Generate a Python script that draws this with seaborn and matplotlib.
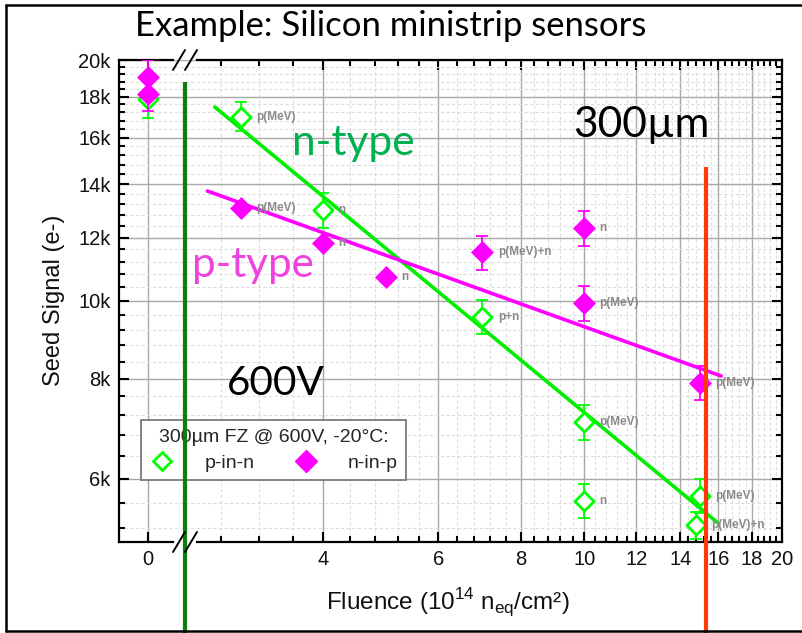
import numpy as np
import pandas as pd
import seaborn as sns
import matplotlib
matplotlib.use("Agg")
import matplotlib.pyplot as plt
from matplotlib.lines import Line2D
from matplotlib.ticker import FixedLocator, FixedFormatter, NullFormatter

# ---------------- data ----------------
pinn_fluence = [0, 3, 4, 7, 10, 10, 15, 14.8]
pinn_signal = [17900, 17000, 13000, 9560, 7060, 5630, 5710, 5250]
pinn_error = [950, 700, 650, 470, 350, 280, 280, 200]
pinn_note = ["", "p(MeV)", "n", "p+n", "p(MeV)", "n", "p(MeV)", "p(MeV)+n"]

nipp_fluence = [0, 0, 3, 4, 5, 7, 10, 10, 15]
nipp_signal = [19050, 18150, 13070, 11810, 10700, 11500, 12320, 9950, 7910]
nipp_error = [950, 900, 0, 0, 0, 570, 620, 500, 390]
nipp_note = ["", "", "p(MeV)", "n", "n", "p(MeV)+n", "n", "p(MeV)", "p(MeV)"]

ntype_fit_fluence = [2.74, 15.94]
ntype_fit_signal = [17470, 5290]
ptype_fit_fluence = [2.67, 16.16]
ptype_fit_signal = [13720, 8060]

cut_fluence = [2.47, 15.33]
cut_top_signal = [18770, 14700]

fluence_ticks = [4, 6, 8, 10, 12, 14, 16, 18, 20]
fluence_tick_labels = ["4", "6", "8", "10", "12", "14", "16", "18", "20"]
signal_ticks = [6000, 8000, 10000, 12000, 14000, 16000, 18000, 20000]
signal_tick_labels = ["6k", "8k", "10k", "12k", "14k", "16k", "18k", "20k"]

# ---------------- style ----------------
sns.set_theme(style="white")
plt.rcParams["font.family"] = ["Liberation Sans", "DejaVu Sans"]
plt.rcParams["mathtext.fontset"] = "custom"
plt.rcParams["mathtext.rm"] = "Liberation Sans"

GREEN = "#00ee00"
MAGENTA = "#ff00ff"
W, H = 803, 633

pinn = pd.DataFrame({"fluence": pinn_fluence, "signal": pinn_signal,
                     "err": pinn_error, "note": pinn_note})
nipp = pd.DataFrame({"fluence": nipp_fluence, "signal": nipp_signal,
                     "err": nipp_error, "note": nipp_note})

fig = plt.figure(figsize=(W / 100, H / 100), dpi=100)
bot = 1 - 542 / H
hgt = (542 - 60) / H
ax0 = fig.add_axes([119 / W, bot, (185 - 119) / W, hgt])
ax1 = fig.add_axes([185 / W, bot, (782 - 185) / W, hgt], sharey=ax0)

ax0.set_yscale("log")
ax1.set_xscale("log")
ax0.set_ylim(5000, 20000)
ax0.set_xlim(-0.439, 0.561)
ax1.set_xlim(2.468, 20)

minor_y = [v for v in np.arange(5200, 20000, 400) if v % 2000 != 0]
minor_x = [v for v in np.round(np.arange(2.8, 20.0, 0.4), 1) if v % 2 != 0]

ax0.yaxis.set_major_locator(FixedLocator(signal_ticks))
ax0.yaxis.set_major_formatter(FixedFormatter(signal_tick_labels))
ax0.yaxis.set_minor_locator(FixedLocator(minor_y))
ax0.yaxis.set_minor_formatter(NullFormatter())
ax0.xaxis.set_major_locator(FixedLocator([0]))
ax0.xaxis.set_major_formatter(FixedFormatter(["0"]))
ax0.xaxis.set_minor_locator(FixedLocator([]))

ax1.xaxis.set_major_locator(FixedLocator(fluence_ticks))
ax1.xaxis.set_major_formatter(FixedFormatter(fluence_tick_labels))
ax1.xaxis.set_minor_locator(FixedLocator(minor_x))
ax1.xaxis.set_minor_formatter(NullFormatter())

for ax in (ax0, ax1):
    ax.set_facecolor("white")
    ax.set_axisbelow(True)
    ax.grid(True, which="major", color="#a8a8a8", linewidth=1.0, linestyle="-")
    ax.grid(True, which="minor", color="#dedede", linewidth=0.8, linestyle=(0, (3, 2)))
    for s in ax.spines.values():
        s.set_color("black")
        s.set_linewidth(1.6)
    ax.tick_params(which="both", direction="in", color="black", width=1.5,
                   labelsize=14.5, pad=6, labelcolor="#111111")
    ax.tick_params(which="major", length=7)
    ax.tick_params(which="minor", length=4)

ax0.tick_params(which="both", left=True, right=False, top=True, bottom=True)
ax1.tick_params(which="both", left=False, right=True, top=True, bottom=True,
                labelleft=False)
ax0.spines["right"].set_visible(False)
ax1.spines["left"].set_visible(False)
ax0.spines["top"].set_bounds(-0.439, 0.379)
ax0.spines["bottom"].set_bounds(-0.439, 0.379)
ax1.spines["top"].set_bounds(2.574, 20)
ax1.spines["bottom"].set_bounds(2.574, 20)

# ---------------- plotting ----------------
def draw(ax, df, open_marker, color, z):
    if len(df) == 0:
        return
    e = df[df["err"] > 0]
    ax.errorbar(e["fluence"], e["signal"], yerr=e["err"], fmt="none",
                ecolor=color, elinewidth=1.3, capsize=4.5, capthick=1.3, zorder=z)
    if open_marker:
        sns.scatterplot(data=df, x="fluence", y="signal", ax=ax, marker="D", s=95,
                        facecolor="white", edgecolor=color, linewidth=2.0,
                        zorder=z + 0.5, legend=False)
    else:
        sns.scatterplot(data=df, x="fluence", y="signal", ax=ax, marker="D", s=125,
                        color=color, edgecolor=color, linewidth=0.5,
                        zorder=z + 0.5, legend=False)
    for _, r in df.iterrows():
        if r["note"]:
            ax.annotate(r["note"], (r["fluence"], r["signal"]), xytext=(11, 0),
                        textcoords="offset points", fontsize=8.5, fontweight="bold",
                        color="#8a8a8a", va="center", ha="left", zorder=z + 1)

sns.lineplot(x=ntype_fit_fluence, y=ntype_fit_signal, ax=ax1, color=GREEN,
             linewidth=2.6, zorder=3)
sns.lineplot(x=ptype_fit_fluence, y=ptype_fit_signal, ax=ax1, color=MAGENTA,
             linewidth=2.6, zorder=3)

draw(ax0, pinn[pinn["fluence"] == 0], True, "#00ff00", 4)
draw(ax0, nipp[nipp["fluence"] == 0], False, MAGENTA, 5)
draw(ax1, pinn[pinn["fluence"] > 0], True, "#00ff00", 4)
draw(ax1, nipp[nipp["fluence"] > 0], False, MAGENTA, 5)

for ax in (ax0, ax1):
    ax.set_xlabel("")
    ax.set_ylabel("")

# legend
handles = [Line2D([], [], ls="none", marker="D", ms=9, mfc="white", mec="#00ff00", mew=2),
           Line2D([], [], ls="none", marker="D", ms=11, mfc=MAGENTA, mec=MAGENTA)]
leg = ax1.legend(handles, ["p-in-n", "n-in-p"], ncol=2, title="300µm FZ @ 600V, -20°C:",
                 loc="upper left", bbox_to_anchor=(141 / W, 1 - 420 / H),
                 bbox_transform=fig.transFigure, frameon=True, fancybox=False,
                 edgecolor="#7a7a7a", framealpha=1, fontsize=14, title_fontsize=14,
                 borderpad=0.45, handletextpad=1.5, columnspacing=2.0, handlelength=1.3,
                 borderaxespad=0, labelspacing=0.2)
leg.get_frame().set_linewidth(1.3)
leg._legend_box.sep = 6
leg.set_zorder(8)

# vertical cut lines (over the legend)
for fx, ftop, col in zip(cut_fluence, cut_top_signal, ["#0a7f0a", "#ff3a0a"]):
    ax1.plot([fx, fx], [ftop, 2500], color=col, linewidth=3.0, clip_on=False,
             zorder=10, solid_capstyle="butt")

# axis break marks
bx = 185 / W
for ybase in (60, 542):
    for dx in (-12, 0):
        fig.add_artist(Line2D([bx + dx / W, bx + (dx + 12) / W],
                              [1 - (ybase + 10) / H, 1 - (ybase - 10) / H],
                              color="black", linewidth=1.4))

# axis labels
xl = fig.text(448 / W, 1 - 603 / H, "Fluence (10$^{\\mathregular{14}}$ n$_{\\mathregular{eq}}$/cm²)",
              ha="center", va="center", fontsize=17.5, color="#111111")
yl = fig.text(54 / W, 1 - 300 / H, "Seed Signal (e-)", rotation=90, ha="center",
              va="center", fontsize=17, color="#111111")

# annotations (Calibri-like)
CAL = ["Lato", "DejaVu Sans"]
texts = []
texts.append((fig.text(135 / W, 1 - 36 / H, "Example: Silicon ministrip sensors",
                       family=CAL, fontsize=24, color="black", va="baseline"), 510))
texts.append((ax1.text(0.179, 0.803, "n-type", transform=ax1.transAxes, family=CAL,
                       fontsize=32, color="#00b050", va="baseline", zorder=9), 123))
texts.append((ax1.text(0.011, 0.5498, "p-type", transform=ax1.transAxes, family=CAL,
                       fontsize=32, color="#ee44dd", va="baseline", zorder=9), 122))
texts.append((ax1.text(0.650, 0.841, "300µm", transform=ax1.transAxes, family=CAL,
                       fontsize=32, color="black", va="baseline", zorder=9), 137))
texts.append((ax1.text(0.0698, 0.305, "600V", transform=ax1.transAxes, family=CAL,
                       fontsize=32, color="black", va="baseline", zorder=9), 98))
fig.canvas.draw()
r = fig.canvas.get_renderer()
for t, target in texts:
    w = t.get_window_extent(r).width
    t.set_fontsize(t.get_fontsize() * target / w)

# figure border (left, top, bottom)
for xs, ys in (([6 / W, 6 / W], [1 - 631 / H, 1 - 5 / H]),
               ([6 / W, 1.0], [1 - 5 / H, 1 - 5 / H]),
               ([6 / W, 1.0], [1 - 631 / H, 1 - 631 / H])):
    fig.add_artist(Line2D(xs, ys, color="black", linewidth=1.8))

fig.savefig("out.png", dpi=100)
